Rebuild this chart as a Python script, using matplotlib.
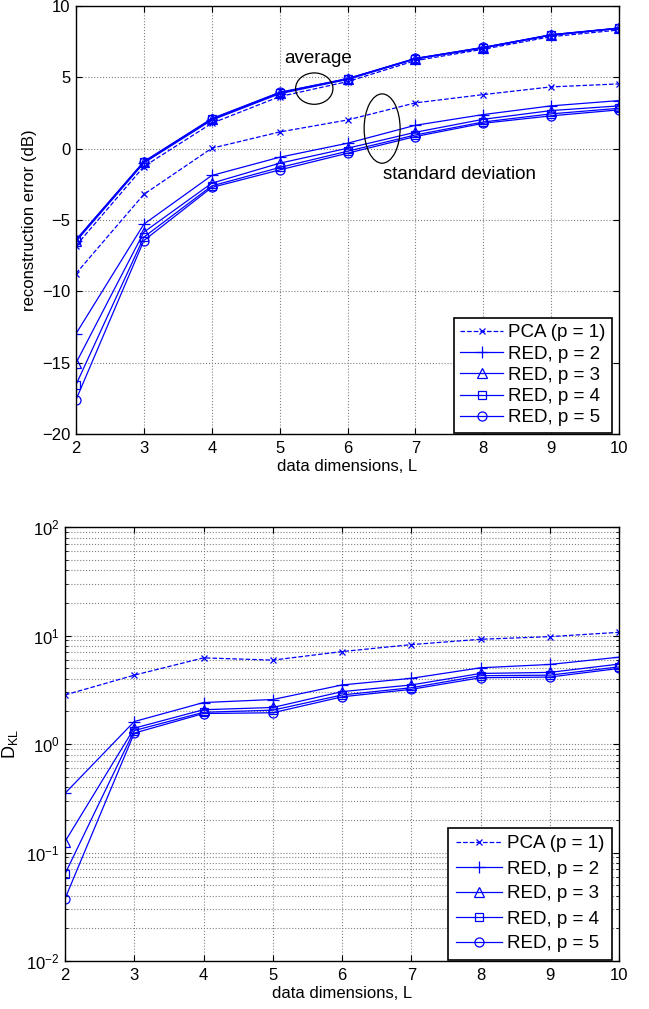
import matplotlib
matplotlib.use("Agg")
import matplotlib.pyplot as plt
from matplotlib.patches import Ellipse
from matplotlib.ticker import LogLocator, NullFormatter

plt.rcParams['font.family'] = ['Liberation Sans', 'DejaVu Sans']
plt.rcParams['mathtext.fontset'] = 'custom'
plt.rcParams['mathtext.rm'] = 'Liberation Sans'
plt.rcParams['mathtext.it'] = 'Liberation Sans'

L = [2, 3, 4, 5, 6, 7, 8, 9, 10]
labels = ['PCA (p = 1)', 'RED, p = 2', 'RED, p = 3', 'RED, p = 4', 'RED, p = 5']
markers = ['x', '+', '^', 's', 'o']
styles = ['--', '-', '-', '-', '-']

# reconstruction error (dB): average
avg_pca = [-6.8, -1.25, 1.78, 3.65, 4.70, 6.17, 6.97, 7.85, 8.32]
avg_p2 = [-6.5, -1.0, 2.0, 3.85, 4.85, 6.28, 7.05, 7.95, 8.42]
avg_p3 = [-6.45, -0.95, 2.05, 3.9, 4.88, 6.3, 7.08, 7.97, 8.44]
avg_p4 = [-6.4, -0.92, 2.08, 3.93, 4.9, 6.32, 7.09, 7.98, 8.45]
avg_p5 = [-6.39, -0.9, 2.11, 3.95, 4.91, 6.33, 7.1, 7.99, 8.46]

# reconstruction error (dB): standard deviation
std_pca = [-8.75, -3.2, 0.03, 1.17, 2.01, 3.21, 3.79, 4.33, 4.54]
std_p2 = [-12.97, -5.29, -1.88, -0.6, 0.38, 1.64, 2.39, 3.0, 3.37]
std_p3 = [-15.03, -5.85, -2.42, -1.02, 0.03, 1.15, 2.06, 2.67, 3.0]
std_p4 = [-16.55, -6.2, -2.61, -1.32, -0.18, 0.96, 1.87, 2.44, 2.83]
std_p5 = [-17.6, -6.44, -2.72, -1.49, -0.32, 0.85, 1.78, 2.3, 2.72]

# KL divergence
dkl_pca = [2.83, 4.31, 6.22, 5.93, 7.11, 8.24, 9.23, 9.76, 10.7]
dkl_p2 = [0.351, 1.61, 2.41, 2.57, 3.50, 4.03, 5.04, 5.41, 6.31]
dkl_p3 = [0.126, 1.40, 2.07, 2.17, 3.04, 3.50, 4.47, 4.57, 5.45]
dkl_p4 = [0.0635, 1.33, 1.96, 2.05, 2.83, 3.30, 4.26, 4.31, 5.14]
dkl_p5 = [0.0375, 1.26, 1.91, 1.94, 2.72, 3.19, 4.08, 4.14, 4.97]

avg_all = [avg_pca, avg_p2, avg_p3, avg_p4, avg_p5]
std_all = [std_pca, std_p2, std_p3, std_p4, std_p5]
dkl_all = [dkl_pca, dkl_p2, dkl_p3, dkl_p4, dkl_p5]

BLUE = (0, 0, 1)
FS = 12      # ticks and axis labels
LFS = 13.5   # legend and annotations
MS = {'x': 5, '+': 8, '^': 6.5, 's': 5.5, 'o': 6.5}

fig = plt.figure(figsize=(6.49, 10.09), dpi=100)
ax1 = fig.add_axes([76/649, (1009-434)/1009, 543/649, 428/1009])
ax2 = fig.add_axes([65/649, (1009-961)/1009, 554/649, 434/1009])


def style_axes(ax):
    ax.grid(True, which='major', linestyle=':', color='#808080', linewidth=0.8)
    ax.tick_params(direction='in', top=True, right=True, labelsize=FS, length=4, width=0.8, pad=4)
    ax.tick_params(axis='x', pad=5)
    ax.tick_params(which='minor', direction='in', top=True, right=True, length=2, width=0.6)
    for s in ax.spines.values():
        s.set_linewidth(1.0)
    ax.set_xlim(2, 10)
    ax.set_xticks(L)
    ax.set_xlabel('data dimensions, L', fontsize=FS, labelpad=2)


# Top plot
for i in range(5):
    ms = MS[markers[i]]
    ax1.plot(L, avg_all[i], linestyle=styles[i], marker=markers[i], color=BLUE,
             mfc='none', ms=ms, lw=0.9, mew=0.9, label=labels[i])
    ax1.plot(L, std_all[i], linestyle=styles[i], marker=markers[i], color=BLUE,
             mfc='none', ms=ms, lw=0.9, mew=0.9)
ax1.set_ylim(-20, 10)
ax1.set_yticks([-20, -15, -10, -5, 0, 5, 10])
ax1.set_yticklabels(['\u221220', '\u221215', '\u221210', '\u22125', '0', '5', '10'])
style_axes(ax1)
ax1.set_ylabel('reconstruction error (dB)', fontsize=FS, labelpad=4)
ax1.add_patch(Ellipse((5.51, 4.21), 0.55, 2.2, fill=False, ec='black', lw=0.9, zorder=5))
ax1.add_patch(Ellipse((6.51, 1.41), 0.53, 4.86, fill=False, ec='black', lw=0.9, zorder=5))
ax1.text(5.57, 6.33, 'average', fontsize=LFS, ha='center', va='center')
ax1.text(7.65, -1.79, 'standard deviation', fontsize=LFS, ha='center', va='center')
leg1 = ax1.legend(loc='lower right', bbox_to_anchor=(1 - 7/543, 1/428), fontsize=LFS,
                  fancybox=False, framealpha=1, edgecolor='black', borderpad=0.35,
                  labelspacing=0.22, handlelength=2.3, handletextpad=0.25, borderaxespad=0)
leg1.get_frame().set_linewidth(1.2)

# Bottom plot
for i in range(5):
    ms = MS[markers[i]]
    ax2.semilogy(L, dkl_all[i], linestyle=styles[i], marker=markers[i], color=BLUE,
                 mfc='none', ms=ms, lw=0.9, mew=0.9, label=labels[i])
ax2.set_ylim(1e-2, 1e2)
ax2.yaxis.set_major_locator(LogLocator(base=10, numticks=10))
ax2.yaxis.set_minor_locator(LogLocator(base=10, subs=range(2, 10), numticks=10))
ax2.yaxis.set_minor_formatter(NullFormatter())
style_axes(ax2)
ax2.grid(True, which='minor', axis='y', linestyle=':', color='#808080', linewidth=0.8)
ax2.set_ylabel(r'$\mathregular{D_{KL}}$', fontsize=FS + 1, labelpad=4)
leg2 = ax2.legend(loc='lower right', bbox_to_anchor=(1 - 7/554, 1/434), fontsize=LFS,
                  fancybox=False, framealpha=1, edgecolor='black', borderpad=0.4,
                  labelspacing=0.42, handlelength=2.5, handletextpad=0.25, borderaxespad=0)
leg2.get_frame().set_linewidth(1.2)

fig.savefig('out.png', dpi=100)
